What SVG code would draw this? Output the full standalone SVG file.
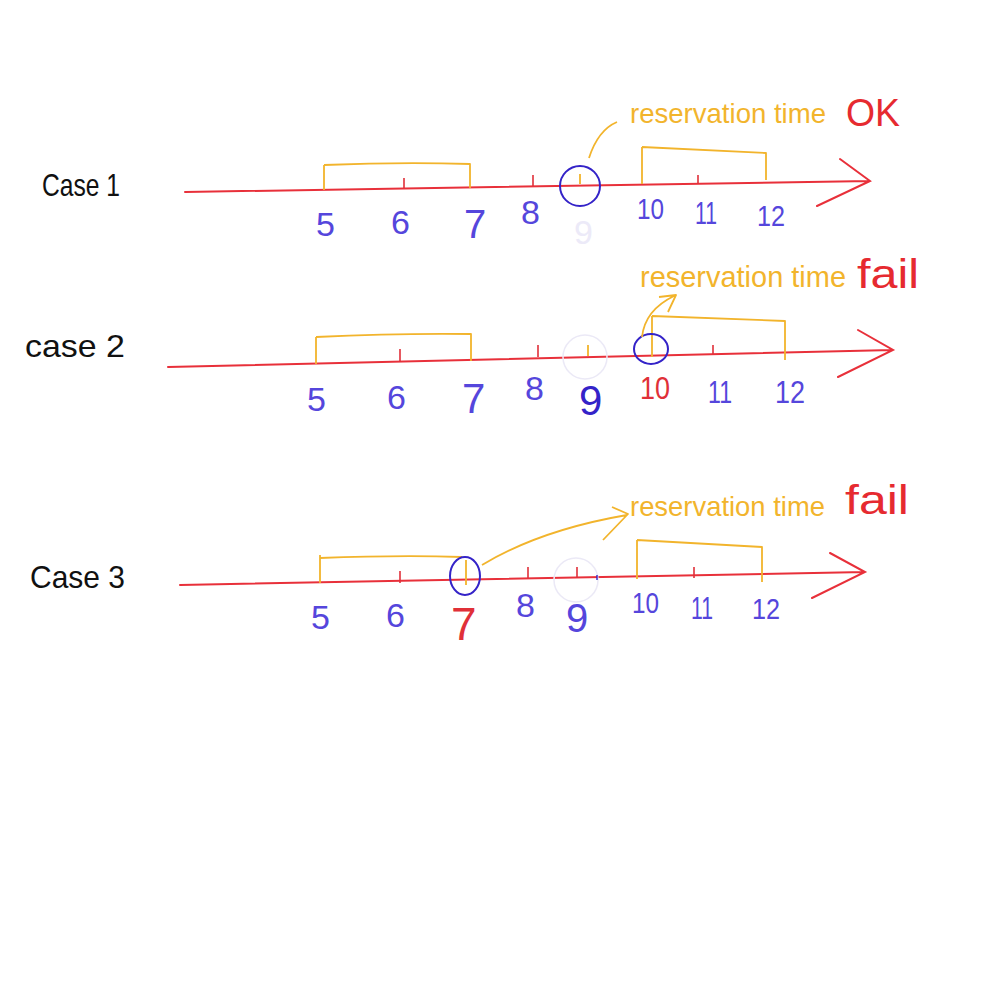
<svg xmlns="http://www.w3.org/2000/svg" width="1000" height="1000" viewBox="0 0 1000 1000">
<style>
.ax{fill:none;stroke:#e8303a;stroke-width:2;stroke-linecap:round}
.tk{fill:none;stroke:#e0303a;stroke-width:1.6}
.br{fill:none;stroke:#f2b42c;stroke-width:1.8;stroke-linejoin:round}
.cir{fill:none;stroke:#3423c8;stroke-width:2}
.faint{fill:none;stroke:#ebe9f6;stroke-width:1.5}
.lbl{font-family:"Liberation Sans",Arial,sans-serif;font-size:34px;fill:#5546dc}
.case{font-family:"Liberation Sans",Arial,sans-serif;font-size:32px;fill:#111}
.res{font-family:"Liberation Sans",Arial,sans-serif;font-size:28px;fill:#f2b42c}
.res2{font-family:"Liberation Sans",Arial,sans-serif;font-size:40px;fill:#e62a30}
</style>
<rect width="1000" height="1000" fill="#fff"/>

<g id="case1">
<text class="case" x="42" y="196" textLength="78" lengthAdjust="spacingAndGlyphs">Case 1</text>
<path class="ax" d="M185 192 L870 181 M840 159 L870 181 L817 206"/>
<path class="tk" d="M404 178 V188 M533 175 V186 M698 175 V184"/>
<path class="br" d="M324 165 V190 M324 165 Q400 162 470 164 V188 M580 174 V184"/>
<path class="br" d="M642 147 V184 M642 147 L766 153 V180"/>
<circle class="cir" cx="580" cy="186" r="20"/>
<path class="br" d="M589 158 Q598 130 617 122"/>
<text class="lbl" x="316" y="236">5</text>
<text class="lbl" x="391" y="234">6</text>
<text class="lbl" x="464" y="238" style="font-size:40px">7</text>
<text class="lbl" x="521" y="224">8</text>
<text class="lbl" x="574" y="244" style="fill:#eceaf8">9</text>
<text class="lbl" x="637" y="219" textLength="27" lengthAdjust="spacingAndGlyphs" style="font-size:30px">10</text>
<text class="lbl" x="695" y="224" textLength="22" lengthAdjust="spacingAndGlyphs" style="font-size:32px">11</text>
<text class="lbl" x="757" y="226" textLength="28" lengthAdjust="spacingAndGlyphs" style="font-size:30px">12</text>
<text class="res" x="630" y="123" textLength="196" lengthAdjust="spacingAndGlyphs">reservation time</text>
<text class="res2" x="846" y="126" textLength="54" lengthAdjust="spacingAndGlyphs" style="font-size:38px">OK</text>
</g>

<g id="case2">
<text class="case" x="25" y="357" textLength="100" lengthAdjust="spacingAndGlyphs">case 2</text>
<path class="ax" d="M168 367 L893 350 M858 330 L893 350 L838 377"/>
<path class="tk" d="M400 349 V362 M538 345 V357 M713 345 V354"/>
<path class="br" d="M316 337 V364 M316 337 Q400 333 471 334 V361 M588 345 V356"/>
<circle class="faint" cx="585" cy="357" r="22"/>
<path class="br" d="M652 316 V357 M652 316 L785 321 V360"/>
<ellipse class="cir" cx="651" cy="349" rx="17" ry="15"/>
<path class="br" d="M642 337 Q645 310 674 296 M659 297 L676 295 L668 312"/>
<text class="lbl" x="307" y="411">5</text>
<text class="lbl" x="387" y="409">6</text>
<text class="lbl" x="462" y="413" style="font-size:42px">7</text>
<text class="lbl" x="525" y="400">8</text>
<text class="lbl" x="579" y="415" style="font-size:42px;fill:#3423c8">9</text>
<text class="lbl" x="640" y="399" textLength="30" lengthAdjust="spacingAndGlyphs" style="fill:#e03038;font-size:32px">10</text>
<text class="lbl" x="708" y="403" textLength="24" lengthAdjust="spacingAndGlyphs" style="font-size:32px">11</text>
<text class="lbl" x="775" y="403" textLength="30" lengthAdjust="spacingAndGlyphs" style="font-size:32px">12</text>
<text class="res" x="640" y="287" textLength="206" lengthAdjust="spacingAndGlyphs" style="font-size:29px">reservation time</text>
<text class="res2" x="857" y="288" textLength="62" lengthAdjust="spacingAndGlyphs">fail</text>
</g>

<g id="case3">
<text class="case" x="30" y="588" textLength="95" lengthAdjust="spacingAndGlyphs">Case 3</text>
<path class="ax" d="M180 585 L865 572 M830 553 L865 572 L812 598"/>
<path class="tk" d="M400 571 V583 M528 567 V578 M577 567 V578 M694 567 V578"/>
<path class="br" d="M320 555 V583 M320 558 Q400 555 462 557 M466 560 V585"/>
<circle class="faint" cx="576" cy="580" r="22"/>
<path d="M597 575 V580" stroke="#3423c8" stroke-width="1.4"/>
<path class="br" d="M637 540 V579 M637 540 L762 547 V582"/>
<ellipse class="cir" cx="465" cy="576" rx="15" ry="19"/>
<path class="br" d="M482 565 Q540 530 627 515 M612 507 L628 514 L603 540"/>
<text class="lbl" x="311" y="629">5</text>
<text class="lbl" x="386" y="627">6</text>
<text class="lbl" x="451" y="640" style="font-size:46px;fill:#e03038">7</text>
<text class="lbl" x="516" y="617">8</text>
<text class="lbl" x="566" y="632" style="font-size:40px">9</text>
<text class="lbl" x="632" y="613" textLength="27" lengthAdjust="spacingAndGlyphs" style="font-size:30px">10</text>
<text class="lbl" x="691" y="619" textLength="22" lengthAdjust="spacingAndGlyphs" style="font-size:32px">11</text>
<text class="lbl" x="752" y="619" textLength="28" lengthAdjust="spacingAndGlyphs" style="font-size:30px">12</text>
<text class="res" x="630" y="516" textLength="195" lengthAdjust="spacingAndGlyphs">reservation time</text>
<text class="res2" x="845" y="514" textLength="64" lengthAdjust="spacingAndGlyphs">fail</text>
</g>
</svg>
